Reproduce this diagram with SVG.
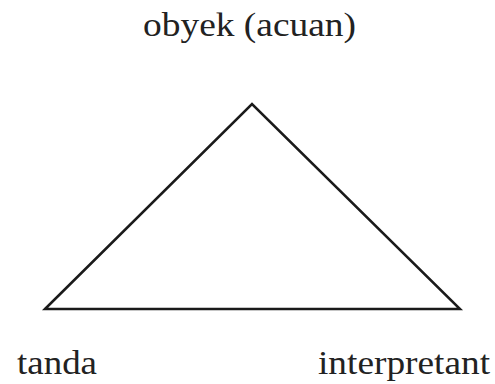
<svg xmlns="http://www.w3.org/2000/svg" width="495" height="384" viewBox="0 0 495 384">
<style>
.lbl{font-family:"Liberation Serif","Times New Roman",serif;font-size:33px;fill:#222}
.edge{stroke:#1a1a1a;stroke-width:2.5;fill:none;stroke-linejoin:miter}
</style>
<rect width="495" height="384" fill="#fff"/>
<g id="connectors">
<path class="edge" d="M45,309 L252,104 L460,309 Z"/>
</g>
<g id="node-obyek"><text class="lbl" x="143" y="36" textLength="213" lengthAdjust="spacingAndGlyphs">obyek (acuan)</text></g>
<g id="node-tanda"><text class="lbl" x="17" y="374" textLength="80" lengthAdjust="spacingAndGlyphs">tanda</text></g>
<g id="node-interpretant"><text class="lbl" x="318" y="374" textLength="172" lengthAdjust="spacingAndGlyphs">interpretant</text></g>
</svg>
